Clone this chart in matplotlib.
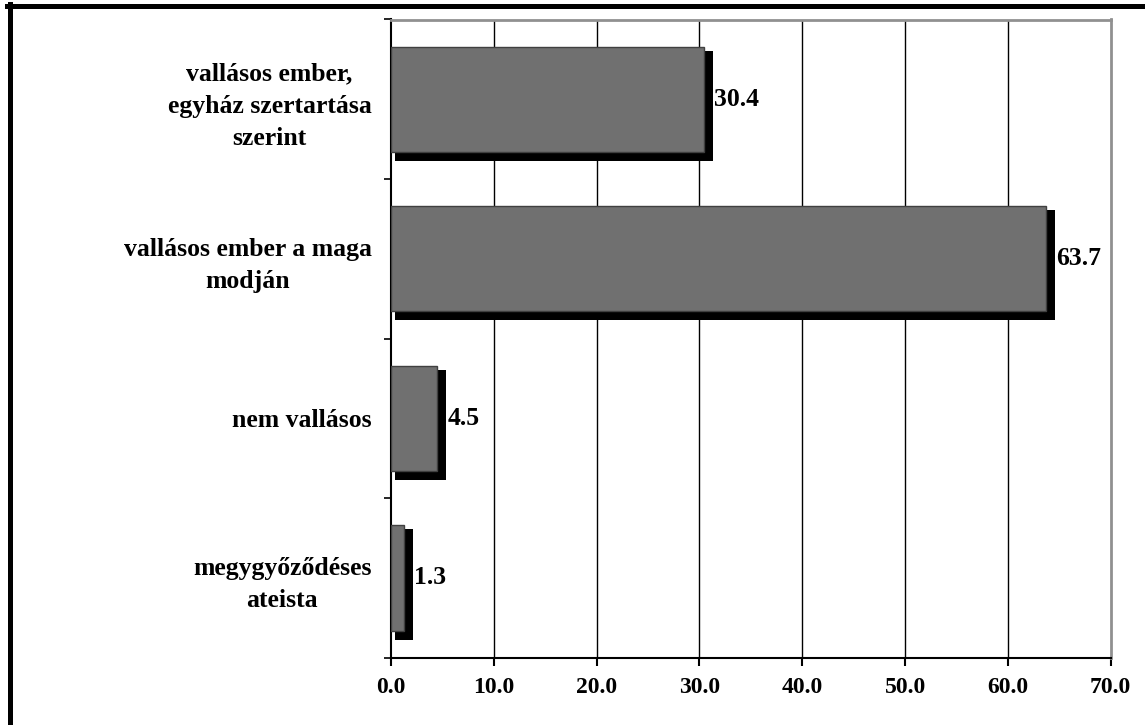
import matplotlib
matplotlib.use("Agg")
import matplotlib.pyplot as plt
from matplotlib.patches import Rectangle
from matplotlib.lines import Line2D

categories = ["vallásos ember,\negyház szertartása\nszerint",
              "vallásos ember a maga\nmodján",
              "nem vallásos",
              "megygyőződéses\nateista"]
values = [30.4, 63.7, 4.5, 1.3]
xticks = [0, 10, 20, 30, 40, 50, 60, 70]
xtick_labels = ["0.0", "10.0", "20.0", "30.0", "40.0", "50.0", "60.0", "70.0"]

W, H = 1145, 725
fig = plt.figure(figsize=(W / 100, H / 100), dpi=100)
plt.rcParams['font.family'] = ['Liberation Serif', 'DejaVu Serif']

left, right, top, bottom = 391, 1110.7, 19.5, 657.7
ax = fig.add_axes([left / W, 1 - bottom / H, (right - left) / W, (bottom - top) / H])

n = len(categories)
ax.set_xlim(0, 70)
ax.set_ylim(n - 0.5, -0.5)

px_x = 70 / (right - left)
px_y = n / (bottom - top)
bh = 0.66

for i, v in enumerate(values):
    # shadow
    ax.add_patch(Rectangle((4 * px_x, i - bh / 2 + 4 * px_y), v + 5 * px_x, bh + 5 * px_y,
                           facecolor='black', edgecolor='none', zorder=2))
    ax.add_patch(Rectangle((0, i - bh / 2), v, bh, facecolor='#707070',
                           edgecolor='#404040', linewidth=1.0, zorder=3))
    ax.text(v + 10 * px_x, i, f"{v:.1f}", ha='left', va='center',
            fontsize=18.5, fontweight='bold', zorder=4)

for x in xticks[1:-1]:
    ax.axvline(x, color='black', linewidth=1.0, zorder=1)

ax.set_xticks(xticks)
ax.set_xticklabels(xtick_labels, fontsize=17, fontweight='bold')
ax.set_yticks(range(n))
ax.set_yticklabels(categories, fontsize=18.5, fontweight='bold', multialignment='center',
                   linespacing=1.5)
ax.tick_params(axis='y', length=0, pad=14)
ax.set_yticks([i + 0.5 for i in range(-1, n)], minor=True)
ax.tick_params(axis='y', which='minor', length=5, width=1.2, direction='out')
ax.tick_params(axis='x', length=6, width=1.5, direction='out', pad=8)

for s in ['left', 'bottom']:
    ax.spines[s].set_color('black')
    ax.spines[s].set_linewidth(1.5)
for s in ['top', 'right']:
    ax.spines[s].set_color('#909090')
    ax.spines[s].set_linewidth(2)

# outer frame (top and left visible)
lw = 5 * 72 / 100
fig.add_artist(Line2D([7 / W, 1.01], [1 - 6 / H, 1 - 6 / H], color='black', linewidth=lw,
                      transform=fig.transFigure))
fig.add_artist(Line2D([9.5 / W, 9.5 / W], [1 - 4 / H, -0.01], color='black', linewidth=lw,
                      transform=fig.transFigure))

fig.savefig("out.png", dpi=100)
